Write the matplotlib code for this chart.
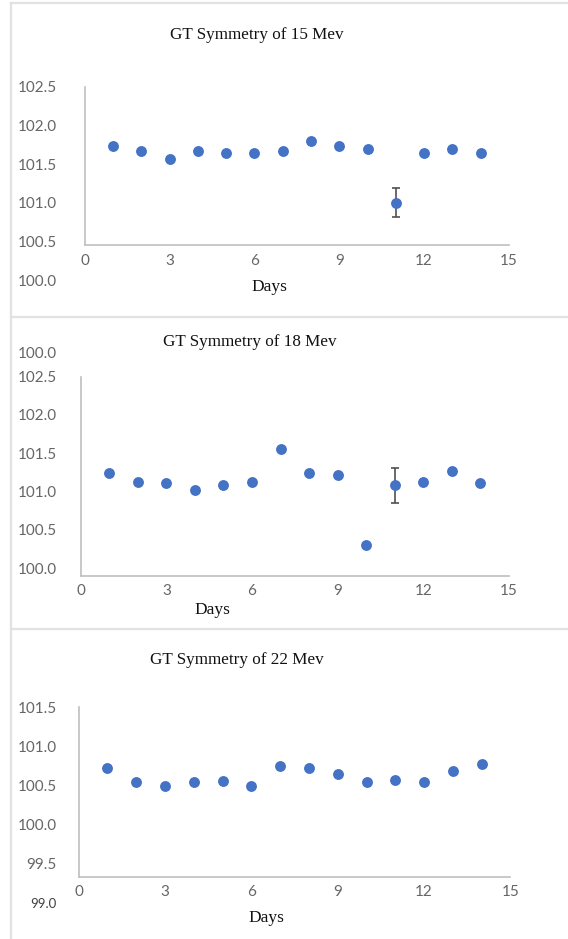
import matplotlib
matplotlib.use('Agg')
import matplotlib.pyplot as plt
from matplotlib.lines import Line2D
import numpy as np

W, H = 568, 939

# data
days = [1, 2, 3, 4, 5, 6, 7, 8, 9, 10, 11, 12, 13, 14]

sym_15 = [101.73, 101.67, 101.57, 101.67, 101.64, 101.64, 101.67,
          101.80, 101.73, 101.70, 101.00, 101.64, 101.70, 101.64]
err_15 = [0, 0, 0, 0, 0, 0, 0, 0, 0, 0, 0.19, 0, 0, 0]

sym_18 = [101.24, 101.13, 101.11, 101.02, 101.08, 101.13, 101.55,
          101.24, 101.21, 100.30, 101.08, 101.13, 101.27, 101.11]
err_18 = [0, 0, 0, 0, 0, 0, 0, 0, 0, 0, 0.23, 0, 0, 0]

sym_22 = [100.73, 100.55, 100.49, 100.55, 100.56, 100.49, 100.75,
          100.73, 100.65, 100.55, 100.57, 100.55, 100.68, 100.78]
err_22 = [0] * 14

xticks = [0, 3, 6, 9, 12, 15]

yticks_15 = [102.5, 102.0, 101.5, 101.0, 100.5, 100.0]
ylabels_15 = ['102.5', '102.0', '101.5', '101.0', '100.5', '100.0']
yticks_18 = [102.82, 102.5, 102.0, 101.5, 101.0, 100.5, 100.0]
ylabels_18 = ['100.0', '102.5', '102.0', '101.5', '101.0', '100.5', '100.0']
yticks_22 = [101.5, 101.0, 100.5, 100.0, 99.5, 99.0]
ylabels_22 = ['101.5', '101.0', '100.5', '100.0', '99.5', '99.0']

BLUE = '#4472C4'
GREY_TXT = '#666666'
AXIS = '#BFBFBF'


def rect(left, top, right, bottom):
    return [left / W, 1 - bottom / H, (right - left) / W, (bottom - top) / H]


panels = [
    dict(title='GT Symmetry of 15 Mev', y=sym_15, e=err_15,
         rect=rect(84.7, 87, 509, 280), ylim=(100.0, 102.5), base=100.45, top=102.5,
         yt=yticks_15, yl=ylabels_15, pad=20, tpos=(257, 35), dpos=(269, 287)),
    dict(title='GT Symmetry of 18 Mev', y=sym_18, e=err_18,
         rect=rect(80.7, 346.1, 509, 575.7), ylim=(99.9, 102.9), base=99.9, top=102.5,
         yt=yticks_18, yl=ylabels_18, pad=17, tpos=(250, 342), dpos=(212, 610)),
    dict(title='GT Symmetry of 22 Mev', y=sym_22, e=err_22,
         rect=rect(78.5, 707.3, 510.5, 902.8), ylim=(99.0, 101.5), base=99.33, top=101.5,
         yt=yticks_22, yl=ylabels_22, pad=15.5, tpos=(237, 660), dpos=(266, 918)),
]

fig = plt.figure(figsize=(W / 100, H / 100), dpi=100)
fig.patch.set_facecolor('white')

for p in panels:
    ax = fig.add_axes(p['rect'])
    ax.set_xlim(0, 15)
    ax.set_ylim(*p['ylim'])
    ax.patch.set_alpha(0)

    y = np.array(p['y'])
    e = np.array(p['e'])
    x = np.array(days)
    m = e > 0
    if m.any():
        ax.errorbar(x[m], y[m], yerr=e[m], fmt='none', ecolor='#505050',
                    elinewidth=1.2, capsize=3, capthick=1.2, zorder=2)
    ax.plot(x, y, 'o', color=BLUE, markersize=6.8, zorder=3, clip_on=False)

    for s in ['top', 'right']:
        ax.spines[s].set_visible(False)
    ax.spines['bottom'].set_position(('data', p['base']))
    ax.spines['left'].set_bounds(p['base'], p['top'])
    for s in ['left', 'bottom']:
        ax.spines[s].set_color(AXIS)
        ax.spines[s].set_linewidth(1.2)

    ax.set_xticks(xticks)
    ax.set_xticklabels([str(t) for t in xticks])
    ax.set_yticks(p['yt'])
    ax.set_yticklabels(p['yl'])
    ax.tick_params(axis='x', length=0, pad=6, labelsize=11, labelcolor=GREY_TXT)
    ax.tick_params(axis='y', length=0, pad=p['pad'], labelsize=11, labelcolor=GREY_TXT)
    for lab in ax.get_xticklabels() + ax.get_yticklabels():
        lab.set_family('Lato')
    if p['yl'][-1] == '99.0':
        ax.get_yticklabels()[-1].set_fontsize(9.5)
        ax.get_yticklabels()[-1].set_color('#404040')

    fig.text(p['tpos'][0] / W, 1 - p['tpos'][1] / H, p['title'], ha='center', va='center',
             family='Liberation Serif', fontsize=12.3, color='#111111')
    fig.text(p['dpos'][0] / W, 1 - p['dpos'][1] / H, 'Days', ha='center', va='center',
             family='Liberation Serif', fontsize=12.5, color='#111111')

# chart-area borders
BORDER = '#E2E2E2'
fig.add_artist(Line2D([11 / W, 11 / W], [0, 1 - 3 / H], color=BORDER, lw=1.6,
                      transform=fig.transFigure))
for yy in [3, 316.7, 629]:
    fig.add_artist(Line2D([11 / W, 1], [1 - yy / H, 1 - yy / H], color=BORDER, lw=1.6,
                          transform=fig.transFigure))

fig.savefig('out.png', dpi=100)
